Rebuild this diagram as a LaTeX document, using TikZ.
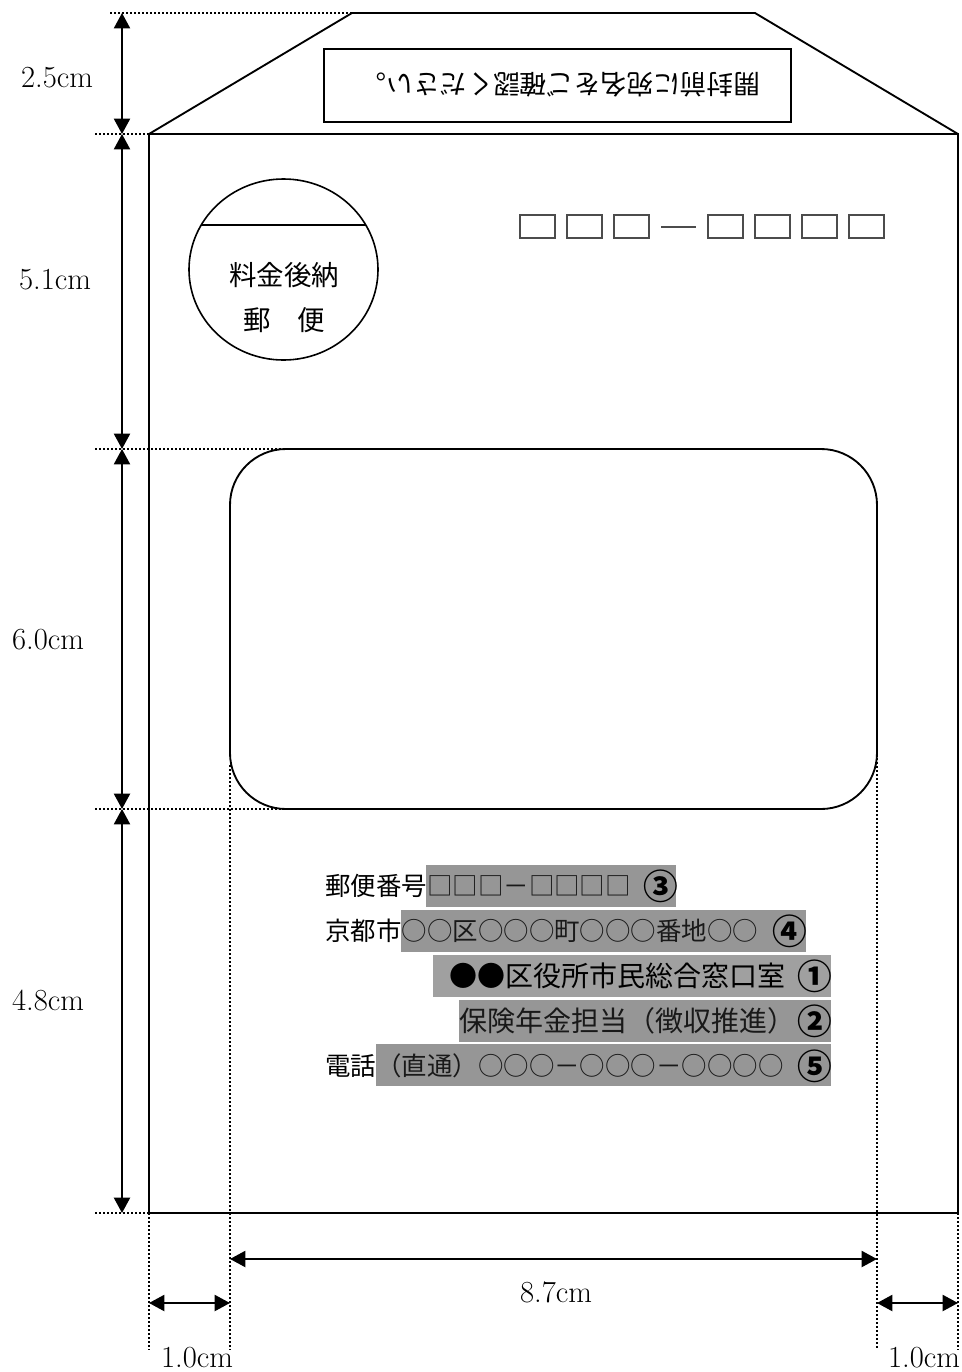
\documentclass[tikz,border=0pt]{standalone}
\usepackage{fontspec}
\usepackage{tikz}
\usetikzlibrary{arrows.meta}
\newfontfamily\cjk{Noto Sans CJK JP}
\definecolor{mask}{HTML}{969696}
\definecolor{masklight}{HTML}{A0A0A0}
\tikzset{
  outline/.style={line width=1.4pt},
  guide/.style={line width=1.2pt,dash pattern=on 1.5pt off 1.5pt},
  dimline/.style={line width=1.6pt,{Triangle[length=11.5pt,width=12pt]}-{Triangle[length=11.5pt,width=12pt]}},
  dimtext/.style={inner sep=0pt,font=\fontsize{23}{25}\selectfont},
  jtext/.style={inner sep=0pt,anchor=west,font=\cjk\fontsize{19.1}{21}\selectfont},
  jlarge/.style={jtext,font=\cjk\fontsize{21}{23}\selectfont},
  jstamp/.style={inner sep=0pt,font=\cjk\fontsize{20.6}{22}\selectfont},
  rownum/.style={inner sep=0pt,font=\cjk\bfseries\fontsize{26}{28}\selectfont},
  maskrow/.style={fill=mask,draw=none}
}
\newcommand{\masked}[1]{{\color{black!90}#1}}
\begin{document}
\begin{tikzpicture}[x=0.75pt,y=-0.75pt]
\useasboundingbox (0,0) rectangle (962,1372);
% envelope
\draw[outline] (149,134) rectangle (958,1213);
\draw[outline] (149,134) -- (352,13) -- (755,13) -- (958,134);
\draw[line width=1.9pt] (324,49) rectangle (791,122);
\node[rotate=180,inner sep=0pt,font=\cjk\fontsize{20}{22}\selectfont] (notice) at (560,85) {開封前に宛名をご確認ください。};
% stamp
\draw[line width=1.2pt] (283.5,269.5) ellipse (94.5 and 90.5);
\draw[line width=1.2pt] (201,225) -- (366,225);
\node[jstamp] (stampa) at (284,275) {料金後納};
\node[jstamp] (stampb) at (284,320) {郵\hspace{20pt}便};
% postal code
\foreach \x in {520,567,614,708,755,802,849}
  \draw[line width=0.85pt,black!70] (\x,215) rectangle ++(35,23);
\draw[line width=0.85pt,black!70] (661,227) -- (696,227);
% window
\draw[outline,rounded corners=42pt] (230,449) rectangle (877,809);
% address
\fill[maskrow] (426,865) rectangle (676,907);
\fill[maskrow] (401,910) rectangle (806,952);
\fill[maskrow,fill=masklight] (433,955) rectangle (831,997);
\fill[maskrow] (459,1000) rectangle (831,1042);
\fill[maskrow] (376,1044) rectangle (831,1086);
\node[jtext] (zip) at (325,886) {郵便番号\masked{□□□－□□□□}};
\node[rownum] (zipno) at (661,886) {③};
\node[jtext] (addr) at (325,931) {京都市\masked{○○区○○○町○○○番地○○}};
\node[rownum] (addrno) at (790,931) {④};
\node[jlarge] (office) at (449,976) {●●区役所市民総合窓口室};
\node[rownum] (officeno) at (815,976) {①};
\node[jlarge] (desk) at (459,1021) {\masked{保険年金担当（徴収推進）}};
\node[rownum] (deskno) at (815,1021) {②};
\node[jtext] (tel) at (325,1066) {電話\masked{（直通）○○○－○○○－○○○○}};
\node[rownum] (telno) at (815,1066) {⑤};
% guides
\draw[guide] (110,13) -- (392,13);
\draw[guide] (95,134) -- (149,134);
\draw[guide] (95,449) -- (338,449);
\draw[guide] (95,809) -- (283,809);
\draw[guide] (95,1213) -- (149,1213);
\draw[guide] (149,1213) -- (149,1350);
\draw[guide] (230,765) -- (230,1350);
\draw[guide] (877,718) -- (877,1350);
\draw[guide] (958,1033) -- (958,1350);
% dimensions
\coordinate (h0) at (122,13);
\coordinate (h1) at (122,134);
\coordinate (h2) at (122,449);
\coordinate (h3) at (122,809);
\coordinate (h4) at (122,1213);
\draw[dimline] (h0) -- (h1);
\draw[dimline] (h1) -- (h2);
\draw[dimline] (h2) -- (h3);
\draw[dimline] (h3) -- (h4);
\coordinate (w0) at (149,1303);
\coordinate (w1) at (230,1303);
\coordinate (w2) at (877,1303);
\coordinate (w3) at (958,1303);
\coordinate (b1) at (230,1259);
\coordinate (b2) at (877,1259);
\draw[dimline] (w0) -- (w1);
\draw[dimline] (w2) -- (w3);
\draw[dimline] (b1) -- (b2);
\node[dimtext] (flapsize) at (57,78) {2.5cm};
\node[dimtext] (topsize) at (55,280) {5.1cm};
\node[dimtext] (windowsize) at (48,640) {6.0cm};
\node[dimtext] (lowersize) at (48,1000) {4.8cm};
\node[dimtext] (widthsize) at (556,1292) {8.7cm};
\node[dimtext] (leftsize) at (197,1358) {1.0cm};
\node[dimtext] (rightsize) at (924,1358) {1.0cm};
\end{tikzpicture}
\end{document}
